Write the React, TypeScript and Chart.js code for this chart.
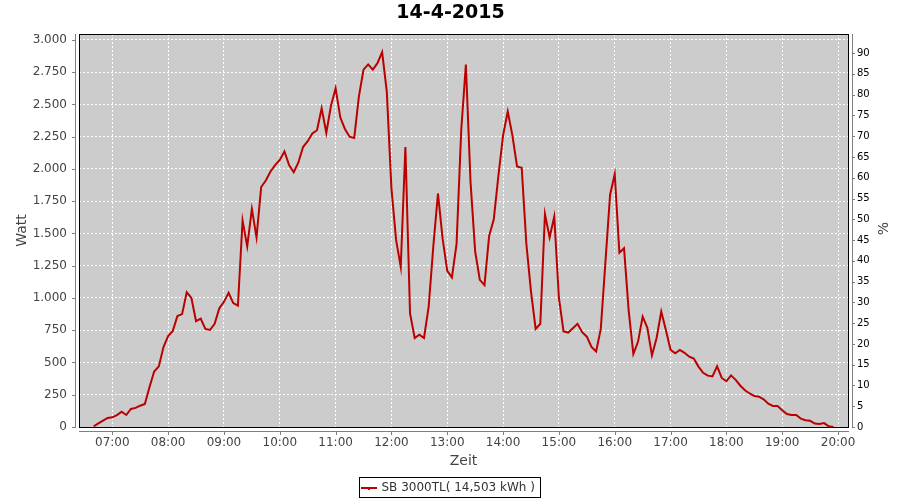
import React, { useEffect, useRef } from "react";
import { Chart, registerables } from "chart.js";

Chart.register(...registerables);

// ---------- data ----------
const TITLE = "14-4-2015";
const SERIES_LABEL = "SB 3000TL( 14,503 kWh )";
const Y_LEFT_TITLE = "Watt";
const Y_RIGHT_TITLE = "%";
const X_TITLE = "Zeit";

const TIMES = [
  "06:40", "06:45", "06:50", "06:55",
  "07:00", "07:05", "07:10", "07:15", "07:20", "07:25", "07:30", "07:35", "07:40", "07:45", "07:50", "07:55",
  "08:00", "08:05", "08:10", "08:15", "08:20", "08:25", "08:30", "08:35", "08:40", "08:45", "08:50", "08:55",
  "09:00", "09:05", "09:10", "09:15", "09:20", "09:25", "09:30", "09:35", "09:40", "09:45", "09:50", "09:55",
  "10:00", "10:05", "10:10", "10:15", "10:20", "10:25", "10:30", "10:35", "10:40", "10:45", "10:50", "10:55",
  "11:00", "11:05", "11:10", "11:15", "11:20", "11:25", "11:30", "11:35", "11:40", "11:45", "11:50", "11:55",
  "12:00", "12:05", "12:10", "12:15", "12:20", "12:25", "12:30", "12:35", "12:40", "12:45", "12:50", "12:55",
  "13:00", "13:05", "13:10", "13:15", "13:20", "13:25", "13:30", "13:35", "13:40", "13:45", "13:50", "13:55",
  "14:00", "14:05", "14:10", "14:15", "14:20", "14:25", "14:30", "14:35", "14:40", "14:45", "14:50", "14:55",
  "15:00", "15:05", "15:10", "15:15", "15:20", "15:25", "15:30", "15:35", "15:40", "15:45", "15:50", "15:55",
  "16:00", "16:05", "16:10", "16:15", "16:20", "16:25", "16:30", "16:35", "16:40", "16:45", "16:50", "16:55",
  "17:00", "17:05", "17:10", "17:15", "17:20", "17:25", "17:30", "17:35", "17:40", "17:45", "17:50", "17:55",
  "18:00", "18:05", "18:10", "18:15", "18:20", "18:25", "18:30", "18:35", "18:40", "18:45", "18:50", "18:55",
  "19:00", "19:05", "19:10", "19:15", "19:20", "19:25", "19:30", "19:35", "19:40", "19:45", "19:50", "19:55",
];

const WATTS = [
  5, 28, 49, 70,
  75, 92, 118, 93, 140, 148, 165, 178, 310, 430, 470, 620,
  705, 745, 860, 875, 1045, 1000, 820, 840, 760, 752, 800, 920,
  970, 1040, 960, 940, 1600, 1400, 1690, 1470, 1860, 1910, 1980, 2030,
  2070, 2135, 2030, 1975, 2050, 2170, 2215, 2275, 2300, 2470, 2280, 2490,
  2625, 2400, 2310, 2250, 2240, 2560, 2770, 2810, 2770, 2820, 2905, 2600,
  1850, 1450, 1240, 2170, 880, 690, 715, 690, 930, 1400, 1810, 1460,
  1210, 1160, 1420, 2300, 2810, 1900, 1360, 1140, 1100, 1480, 1610, 1950,
  2260, 2445, 2260, 2020, 2010, 1420, 1050, 760, 800, 1650, 1470, 1630,
  1000, 740, 732, 766, 800, 735, 700, 620, 585, 760, 1280, 1800,
  1960, 1350, 1385, 900, 565, 660, 855, 770, 555, 690, 895, 750,
  598, 572, 598, 575, 545, 530, 468, 420, 398, 392, 470, 380,
  355, 400, 365, 320, 285, 260, 240, 235, 215, 180, 163, 163,
  130, 100, 93, 93, 65, 52, 48, 27, 23, 30, 5, 0,
];

const HOUR_LABELS = [
  "07:00", "08:00", "09:00", "10:00", "11:00", "12:00", "13:00",
  "14:00", "15:00", "16:00", "17:00", "18:00", "19:00", "20:00",
];
const WATT_TICKS = [0, 250, 500, 750, 1000, 1250, 1500, 1750, 2000, 2250, 2500, 2750, 3000];
const PERCENT_TICKS = [0, 5, 10, 15, 20, 25, 30, 35, 40, 45, 50, 55, 60, 65, 70, 75, 80, 85, 90];

const X_RANGE = ["06:24.2", "20:10.7"];
const WATT_MAX = 3046;
const PERCENT_MAX = 94.6;

// ---------- helpers ----------
const toMin = (s: string) => {
  const [h, m] = s.split(":");
  return parseInt(h, 10) * 60 + parseFloat(m);
};
const fmtTime = (v: number) => {
  const h = Math.floor(v / 60);
  const m = Math.round(v - h * 60);
  return String(h).padStart(2, "0") + ":" + String(m).padStart(2, "0");
};
const fmtThousands = (v: number) => String(v).replace(/\B(?=(\d{3})+(?!\d))/g, ".");

const FONT = "'DejaVu Sans', 'Liberation Sans', sans-serif";
const LINE_COLOR = "#bb0000";

const decorPlugin = {
  id: "decor",
  beforeDraw(chart: any) {
    const { ctx, chartArea: a } = chart;
    ctx.save();
    ctx.fillStyle = "#cccccc";
    ctx.fillRect(a.left, a.top, a.right - a.left, a.bottom - a.top);
    ctx.restore();
  },
  afterDraw(chart: any) {
    const { ctx, chartArea: a } = chart;
    const L = Math.round(a.left), R = Math.round(a.right), T = Math.round(a.top), B = Math.round(a.bottom);
    ctx.save();
    // plot outline
    ctx.strokeStyle = "#000000";
    ctx.lineWidth = 1;
    ctx.strokeRect(L + 0.5, T + 0.5, R - L, B - T);

    // axis lines (offset from plot)
    ctx.strokeStyle = "#808080";
    ctx.beginPath();
    ctx.moveTo(L - 3.5, T);
    ctx.lineTo(L - 3.5, B + 1);
    ctx.moveTo(L, B + 4.5);
    ctx.lineTo(R + 1, B + 4.5);
    ctx.moveTo(R + 4.5, T);
    ctx.lineTo(R + 4.5, B + 1);
    // tick marks
    const ys = chart.scales.y;
    WATT_TICKS.forEach((v) => {
      const p = Math.round(ys.getPixelForValue(v)) + 0.5;
      ctx.moveTo(L - 7, p);
      ctx.lineTo(L - 3.5, p);
    });
    const ys1 = chart.scales.y1;
    PERCENT_TICKS.forEach((v) => {
      const p = Math.round(ys1.getPixelForValue(v)) + 0.5;
      ctx.moveTo(R + 4.5, p);
      ctx.lineTo(R + 7, p);
    });
    const xs = chart.scales.x;
    HOUR_LABELS.forEach((l) => {
      const p = Math.round(xs.getPixelForValue(toMin(l))) + 0.5;
      ctx.moveTo(p, B + 4.5);
      ctx.lineTo(p, B + 8);
    });
    ctx.stroke();

    // title
    ctx.fillStyle = "#000000";
    ctx.font = "bold 19px " + FONT;
    ctx.textAlign = "center";
    ctx.textBaseline = "middle";
    ctx.fillText(TITLE, 450.5, 13);

    // axis titles
    ctx.fillStyle = "#444444";
    ctx.font = "14px " + FONT;
    ctx.textBaseline = "alphabetic";
    ctx.fillText(X_TITLE, (L + R) / 2, 465);

    ctx.save();
    ctx.translate(26, (T + B) / 2);
    ctx.rotate(-Math.PI / 2);
    ctx.fillText(Y_LEFT_TITLE, 0, 0);
    ctx.restore();

    ctx.save();
    ctx.translate(888, (T + B) / 2 - 2);
    ctx.rotate(-Math.PI / 2);
    ctx.fillText(Y_RIGHT_TITLE, 0, 0);
    ctx.restore();

    // legend
    ctx.strokeStyle = "#000000";
    ctx.lineWidth = 1;
    ctx.strokeRect(359.5, 477.5, 181, 20);
    ctx.strokeStyle = LINE_COLOR;
    ctx.lineWidth = 2;
    ctx.beginPath();
    ctx.moveTo(361, 488);
    ctx.lineTo(377, 488);
    ctx.stroke();
    ctx.fillStyle = LINE_COLOR;
    ctx.fillRect(368, 488, 2, 2);
    ctx.fillStyle = "#333333";
    ctx.font = "12px " + FONT;
    ctx.textAlign = "left";
    ctx.textBaseline = "middle";
    ctx.fillText(SERIES_LABEL, 381.5, 488);
    ctx.restore();
  },
};

export default function App() {
  const ref = useRef<HTMLCanvasElement | null>(null);

  useEffect(() => {
    document.body.style.margin = "0";
    const canvas = ref.current;
    if (!canvas) return;
    const data = TIMES.map((t, i) => ({ x: toMin(t), y: WATTS[i] }));
    const chart = new Chart(canvas, {
      type: "line",
      data: {
        datasets: [
          {
            label: SERIES_LABEL,
            data,
            borderColor: LINE_COLOR,
            backgroundColor: LINE_COLOR,
            borderWidth: 2,
            pointRadius: 0,
            tension: 0,
            fill: false,
            yAxisID: "y",
          },
        ],
      },
      options: {
        animation: false,
        responsive: false,
        maintainAspectRatio: false,
        events: [],
        layout: { padding: { top: 34, left: 0, right: 0, bottom: 0 } },
        plugins: {
          legend: { display: false },
          title: { display: false },
          tooltip: { enabled: false },
        },
        scales: {
          x: {
            type: "linear",
            position: "bottom",
            min: toMin(X_RANGE[0]),
            max: toMin(X_RANGE[1]),
            afterBuildTicks: (s: any) => {
              s.ticks = HOUR_LABELS.map((l) => ({ value: toMin(l) }));
            },
            afterFit: (s: any) => {
              s.height = 73;
            },
            grid: { color: "#ffffff", lineWidth: 1, drawTicks: false },
            border: { display: false, dash: [2, 2] },
            ticks: {
              padding: 9,
              autoSkip: false,
              maxRotation: 0,
              color: "#444444",
              font: { family: FONT, size: 12 },
              callback: (v: any) => fmtTime(Number(v)),
            },
          },
          y: {
            type: "linear",
            position: "left",
            min: 0,
            max: WATT_MAX,
            afterBuildTicks: (s: any) => {
              s.ticks = WATT_TICKS.map((v) => ({ value: v }));
            },
            afterFit: (s: any) => {
              s.width = 79;
            },
            grid: { color: "#ffffff", lineWidth: 1, drawTicks: false },
            border: { display: false, dash: [2, 2] },
            ticks: {
              padding: 12,
              color: "#444444",
              font: { family: FONT, size: 12 },
              callback: (v: any) => fmtThousands(Number(v)),
            },
          },
          y1: {
            type: "linear",
            position: "right",
            min: 0,
            max: PERCENT_MAX,
            afterBuildTicks: (s: any) => {
              s.ticks = PERCENT_TICKS.map((v) => ({ value: v }));
            },
            afterFit: (s: any) => {
              s.width = 52;
            },
            grid: { display: false, drawTicks: false },
            border: { display: false },
            ticks: {
              padding: 9,
              color: "#000000",
              font: { family: FONT, size: 10 },
              callback: (v: any) => String(v),
            },
          },
        },
      },
      plugins: [decorPlugin],
    });
    return () => chart.destroy();
  }, []);

  return <canvas ref={ref} width={900} height={500} style={{ display: "block" }} />;
}
